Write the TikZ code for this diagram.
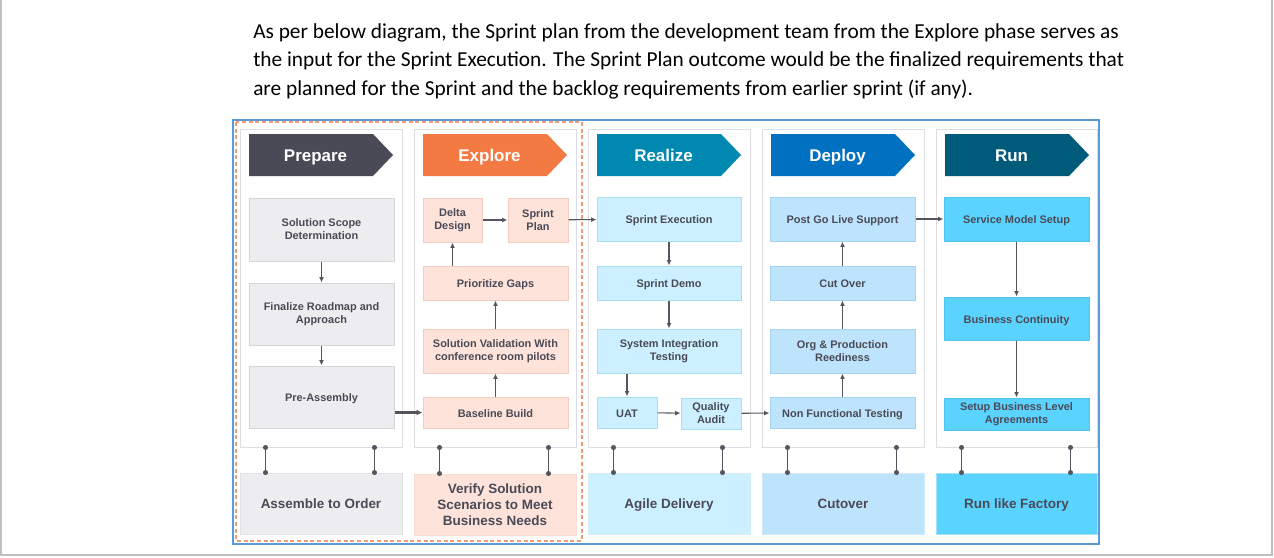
\documentclass[tikz,border=0pt]{standalone}
\usepackage{fontspec}
\setmainfont{Liberation Sans}
\newfontfamily\calib{Carlito}
\usetikzlibrary{arrows.meta}
\definecolor{txt}{HTML}{4A4A57}
\definecolor{arrc}{HTML}{55555F}
\definecolor{hA}{HTML}{4A4A57}
\definecolor{hB}{HTML}{F47A43}
\definecolor{hC}{HTML}{0088B0}
\definecolor{hD}{HTML}{0070C0}
\definecolor{hE}{HTML}{005A7A}
\definecolor{fA}{HTML}{EDEDF0}
\definecolor{dA}{HTML}{D5D5DA}
\definecolor{fB}{HTML}{FDE3D9}
\definecolor{dB}{HTML}{F3CDBF}
\definecolor{fC}{HTML}{CCF0FF}
\definecolor{dC}{HTML}{A9DDF0}
\definecolor{fD}{HTML}{BEE3FC}
\definecolor{dD}{HTML}{A5D3F2}
\definecolor{fE}{HTML}{5BD3FF}
\definecolor{dE}{HTML}{4EC4EF}
\definecolor{pnl}{HTML}{DDDDE2}
\definecolor{outerblue}{HTML}{5B9BD5}
\definecolor{dashor}{HTML}{F29A72}
\definecolor{pageb}{HTML}{BFBFBF}
\newcommand\bx[7]{\node[#6, minimum width={(#4-#2)*0.75pt}, minimum height={(#5-#3)*0.75pt}] (#1) at ({(#2+#4)/2},{(#3+#5)/2}) {#7};}
\begin{document}
\begin{tikzpicture}[x=0.75pt,y=-0.75pt,
  box/.style={draw, line width=0.75pt, inner sep=0pt, align=center, text=txt,
    font=\bfseries\fontsize{8.2}{9.75}\selectfont},
  one/.style={text height=0.72em, text depth=0pt},
  two/.style={yshift=-0.75pt},
  sA/.style={box, fill=fA, draw=dA}, sB/.style={box, fill=fB, draw=dB},
  sC/.style={box, fill=fC, draw=dC}, sD/.style={box, fill=fD, draw=dD},
  sE/.style={box, fill=fE, draw=dE},
  panel/.style={draw=pnl, fill=white, line width=0.75pt, inner sep=0pt},
  bottom/.style={box, font=\bfseries\fontsize{10.1}{12}\selectfont},
  hdrtxt/.style={text=white, font=\bfseries\fontsize{12.7}{14}\selectfont, inner sep=0pt, one},
  arr/.style={draw=arrc, line width=0.8pt, -{Latex[length=4pt,width=3.6pt]}},
  thick arr/.style={draw=arrc, line width=1.6pt, -{Latex[length=4.5pt,width=4.5pt]}},
  conn/.style={draw=arrc, line width=1.1pt},
  para/.style={anchor=base west, inner sep=0pt, font=\calib\fontsize{16}{19}\selectfont}
]
\useasboundingbox (0,0) rectangle (1274,557);
\fill[white] (0,0) rectangle (1274,557);
% page borders
\draw[pageb, line width=0.9pt] (1,0) -- (1,555) -- (1272,555) -- (1272,0);

% paragraph
\node[para] (t1) at (253,38) {As per below diagram, the Sprint plan from the development team from the Explore phase serves as};
\node[para] (t2) at (253,66.5) {the input for the Sprint Execution. The Sprint Plan outcome would be the finalized requirements that};
\node[para] (t3) at (253,95) {are planned for the Sprint and the backlog requirements from earlier sprint (if any).};

% outer frame
\draw[outerblue, line width=1.5pt] (233,120) rectangle (1099,544);

% panels
\bx{p1}{240}{129}{402}{447}{panel}{}
\bx{p2}{414}{129}{576}{447}{panel}{}
\bx{p3}{588}{129}{750}{447}{panel}{}
\bx{p4}{762}{129}{924}{447}{panel}{}
\bx{p5}{936}{129}{1097}{447}{panel}{}

\draw[dashor, line width=0.9pt, dash pattern=on 3pt off 2pt] (236,122) rectangle (582,541);

% headers
\foreach \c/\col in {240/hA,414/hB,588/hC,762/hD,936/hE}{
  \fill[\col] (\c+9,134) -- (\c+133,134) -- (\c+153,155) -- (\c+133,176) -- (\c+9,176) -- cycle;
}
\node[hdrtxt] (h1) at (315.5,156.5) {Prepare};
\node[hdrtxt] (h2) at (489.5,156.5) {Explore};
\node[hdrtxt] (h3) at (663.5,156.5) {Realize};
\node[hdrtxt] (h4) at (837.5,156.5) {Deploy};
\node[hdrtxt] (h5) at (1011.5,156.5) {Run};

% Prepare
\bx{pss}{249}{197}{394}{260}{sA,two}{Solution Scope\\Determination}
\bx{pfr}{249}{282}{394}{344}{sA,two}{Finalize Roadmap and\\Approach}
\bx{ppa}{249}{366}{394}{428}{sA,one}{Pre-Assembly}
% Explore
\bx{edd}{423}{197}{482}{241}{sB,two}{Delta\\Design}
\bx{esp}{508}{197}{568}{241}{sB,two}{Sprint\\Plan}
\bx{epg}{423}{266}{568}{300}{sB,one}{Prioritize Gaps}
\bx{esv}{423}{328}{568}{372}{sB,two}{Solution Validation With\\conference room pilots}
\bx{ebb}{423}{397}{568}{428}{sB,one}{Baseline Build}
% Realize
\bx{rse}{597}{197}{741}{241}{sC,one}{Sprint Execution}
\bx{rsd}{597}{266}{741}{300}{sC,one}{Sprint Demo}
\bx{rsit}{597}{328}{741}{372}{sC,two}{System Integration\\Testing}
\bx{ruat}{597}{397}{657}{428}{sC,one}{UAT}
\bx{rqa}{681}{397}{741}{428}{sC,two}{Quality\\Audit}
% Deploy
\bx{dpg}{770}{197}{915}{241}{sD,one}{Post Go Live Support}
\bx{dco}{770}{266}{915}{300}{sD,one}{Cut Over}
\bx{dop}{770}{328}{915}{372}{sD,two}{Org \& Production\\Reediness}
\bx{dnf}{770}{397}{915}{428}{sD,one}{Non Functional Testing}
% Run
\bx{nsm}{944}{197}{1089}{241}{sE,one}{Service Model Setup}
\bx{nbc}{944}{297}{1089}{340}{sE,one}{Business Continuity}
\bx{nsl}{944}{397}{1089}{429}{sE,two}{Setup Business Level\\Agreements}

% bottom boxes
\bx{b1}{240}{473}{402}{534}{bottom, one, fill=fA, draw=dA!70}{Assemble to Order}
\bx{b2}{414}{473}{576}{534}{bottom, two, fill=fB, draw=dB!70}{Verify Solution\\Scenarios to Meet\\Business Needs}
\bx{b3}{588}{473}{750}{534}{bottom, one, fill=fC, draw=dC!50}{Agile Delivery}
\bx{b4}{762}{473}{924}{534}{bottom, one, fill=fD, draw=dD!50}{Cutover}
\bx{b5}{936}{473}{1097}{534}{bottom, one, fill=fE, draw=dE!50}{Run like Factory}

% arrows
\draw[arr] (pss) -- (pfr);
\draw[arr] (pfr) -- (ppa);
\draw[thick arr] (ppa.east |- ebb.west) -- (ebb.west);
\draw[arr] (ebb) -- (esv);
\draw[arr] (esv) -- (epg);
\draw[arr] (edd.south |- epg.north) -- (edd.south);
\draw[arr] (edd) -- (esp);
\draw[arr] (esp) -- (rse);
\draw[arr] (rse) -- (rsd);
\draw[arr] (rsd) -- (rsit);
\draw[arr] (ruat.north |- rsit.south) -- (ruat.north);
\draw[arr] (ruat) -- (rqa);
\draw[arr] (rqa) -- (dnf);
\draw[arr] (dnf) -- (dop);
\draw[arr] (dop) -- (dco);
\draw[arr] (dco) -- (dpg);
\draw[arr] (dpg) -- (nsm);
\draw[arr] (nsm) -- (nbc);
\draw[arr] (nbc) -- (nsl);

% connectors with dots
\foreach \i in {1,...,5}{
  \foreach \s in {19.5pt,101.25pt}{
    \draw[conn] ([xshift=\s]p\i.south west) -- ([xshift=\s]b\i.north west);
    \fill[arrc] ([xshift=\s]p\i.south west) circle (1.9pt);
    \fill[arrc] ([xshift=\s]b\i.north west) circle (1.9pt);
  }
}
\end{tikzpicture}
\end{document}
